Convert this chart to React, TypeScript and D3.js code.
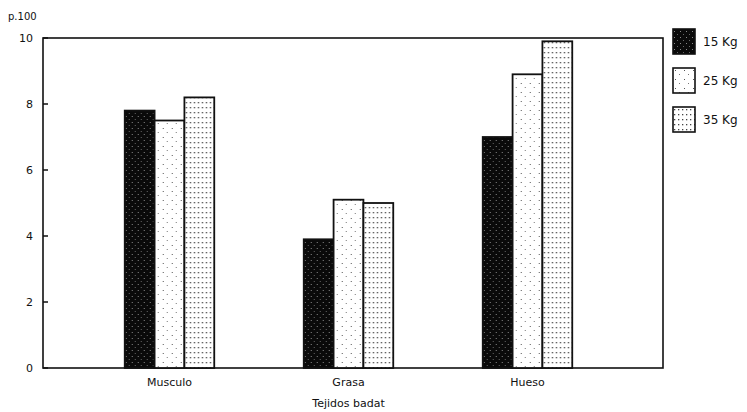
import React from "react";
import * as d3 from "d3";

const categories = ["Musculo", "Grasa", "Hueso"];
const series = ["15 Kg", "25 Kg", "35 Kg"];
const values15 = [7.8, 3.9, 7.0];
const values25 = [7.5, 5.1, 8.9];
const values35 = [8.2, 5.0, 9.9];
const yTicks = [0, 2, 4, 6, 8, 10];
const yUnit = "p.100";
const xTitle = "Tejidos badat";

const seriesValues = [values15, values25, values35];
const fills = ["url(#pat15)", "url(#pat25)", "url(#pat35)"];

export default function App() {
  const W = 747, H = 412;
  const left = 43, right = 663, top = 38, bottom = 368;
  const y = d3.scaleLinear().domain([0, 10]).range([bottom, top]);
  const x0 = d3.scaleBand<string>().domain(categories).range([80, 617]).paddingInner(0.5).paddingOuter(0.25);
  const x1 = d3.scaleBand<string>().domain(series).range([0, x0.bandwidth()]).padding(0);
  const font = "'DejaVu Sans', sans-serif";

  return (
    <svg width={W} height={H} style={{ position: "absolute", left: 0, top: 0, background: "#fff" }}>
      <defs>
        <pattern id="pat15" width="6" height="6" patternUnits="userSpaceOnUse">
          <rect width="6" height="6" fill="#0a0a0a" />
          <rect x="1" y="2" width="1" height="1" fill="#888" />
          <rect x="4" y="5" width="1" height="1" fill="#666" />
        </pattern>
        <pattern id="pat25" width="9" height="9" patternUnits="userSpaceOnUse">
          <rect width="9" height="9" fill="#fff" />
          <rect x="2" y="2" width="1" height="1" fill="#555" />
          <rect x="6" y="6" width="1" height="1" fill="#777" />
        </pattern>
        <pattern id="pat35" width="4" height="5" patternUnits="userSpaceOnUse">
          <rect width="4" height="5" fill="#fff" />
          <rect x="1" y="2" width="1.3" height="1.3" fill="#444" />
        </pattern>
      </defs>

      {/* frame */}
      <rect x={left} y={top} width={right - left} height={bottom - top} fill="none" stroke="#111" strokeWidth={1.6} />

      {/* y ticks */}
      {yTicks.map((t) => (
        <g key={t}>
          <line x1={left} x2={left + 5} y1={y(t)} y2={y(t)} stroke="#111" strokeWidth={1.5} />
          <text x={33} y={y(t)} dy="0.35em" textAnchor="end" fontFamily={font} fontSize={11} fill="#111">
            {t}
          </text>
        </g>
      ))}
      <text x={8} y={20} fontFamily={font} fontSize={10} fill="#111">{yUnit}</text>

      {/* bars */}
      {categories.map((c, ci) => (
        <g key={c} transform={`translate(${x0(c)},0)`}>
          {series.map((s, si) => {
            const v = seriesValues[si][ci];
            return (
              <rect
                key={s}
                x={x1(s)}
                y={y(v)}
                width={x1.bandwidth()}
                height={y(0) - y(v)}
                fill={fills[si]}
                stroke="#111"
                strokeWidth={1.8}
              />
            );
          })}
          <text x={x0.bandwidth() / 2} y={386} textAnchor="middle" fontFamily={font} fontSize={11} fill="#111">
            {c}
          </text>
        </g>
      ))}

      <text x={(x0("Grasa") as number) + x0.bandwidth() / 2} y={407} textAnchor="middle" fontFamily={font} fontSize={11} fill="#111">
        {xTitle}
      </text>

      {/* legend */}
      {series.map((s, si) => (
        <g key={s} transform={`translate(673,${29 + si * 39})`}>
          <rect x={0} y={0} width={22} height={25} fill={fills[si]} stroke="#111" strokeWidth={1.6} />
          <text x={30} y={13} dy="0.35em" fontFamily={font} fontSize={12} fill="#111">{s}</text>
        </g>
      ))}
    </svg>
  );
}
